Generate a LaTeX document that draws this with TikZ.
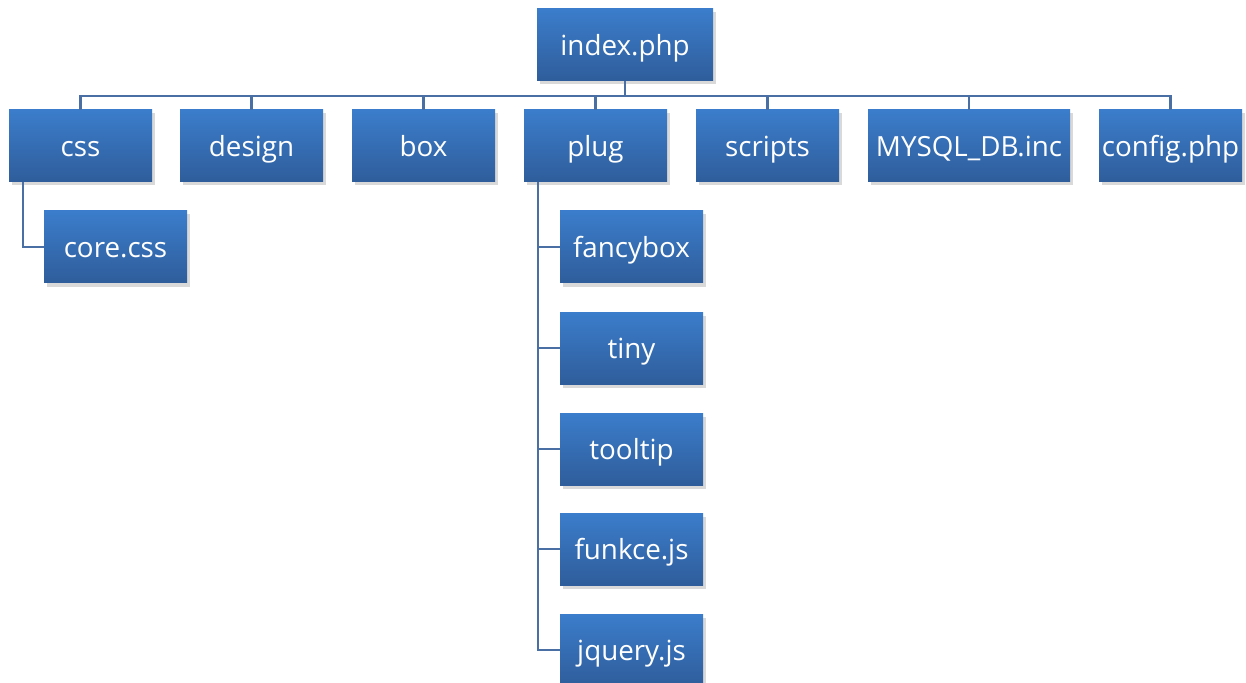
\documentclass[tikz,border=0pt]{standalone}
\usepackage{fontspec}
\setmainfont{Open Sans}
\usepackage{tikz}
\usetikzlibrary{shadows}
\definecolor{boxtop}{RGB}{59,125,203}
\definecolor{boxbot}{RGB}{47,93,155}
\definecolor{wire}{RGB}{74,111,165}

\begin{document}
\begin{tikzpicture}
        \useasboundingbox (0,0) rectangle (24.92,-13.66);
        \begin{scope}[
            every node/.style={shape=rectangle,minimum width=2.86cm,minimum height=1.44cm,
                inner sep=0pt,text height=12pt,text depth=0pt,
                top color=boxtop,bottom color=boxbot,text=white,
                font=\fontsize{15.8}{18}\selectfont,
                drop shadow={opacity=0.3,shadow xshift=0.06cm,shadow yshift=-0.07cm}}
        ]
            \node[minimum width=3.52cm] (index) at (12.5, -0.9) {index.php};

            \node (css) at (1.61, -2.92) {css};
            \node (design) at (5.03, -2.92) {design};
            \node (box) at (8.47, -2.92) {box};
            \node (plug) at (11.91, -2.92) {plug};
            \node (scripts) at (15.35, -2.92) {scripts};
            \node[minimum width=4.04cm] (mysql) at (19.38, -2.92) {MYSQL\_DB.inc};
            \node (config) at (23.41, -2.92) {config.php};

            \node (core) at (2.31, -4.94) {core.css};

            \node (fancybox) at (12.63, -4.94) {fancybox};
            \node (tiny) at (12.63, -6.96) {tiny};
            \node (tooltip) at (12.63, -8.98) {tooltip};
            \node (funkce) at (12.63, -10.98) {funkce.js};
            \node (jquery) at (12.63, -13.0) {jquery.js};
        \end{scope}
        \begin{scope}[
            every edge/.style={draw=wire,line width=1.3pt},
            bus/.style={to path={(\tikztostart) -- ++(0,-0.29) -| (\tikztotarget)}},
            side/.style={to path={([xshift=0.28cm]\tikztostart) |- (\tikztotarget)}}
        ]
            \path [-] (index.south) edge[bus] (css.north);
            \path [-] (index.south) edge[bus] (design.north);
            \path [-] (index.south) edge[bus] (box.north);
            \path [-] (index.south) edge[bus] (plug.north);
            \path [-] (index.south) edge[bus] (scripts.north);
            \path [-] (index.south) edge[bus] (mysql.north);
            \path [-] (index.south) edge[bus] (config.north);

            \path [-] (css.south west) edge[side] (core.west);

            \path [-] (plug.south west) edge[side] (fancybox.west);
            \path [-] (plug.south west) edge[side] (tiny.west);
            \path [-] (plug.south west) edge[side] (tooltip.west);
            \path [-] (plug.south west) edge[side] (funkce.west);
            \path [-] (plug.south west) edge[side] (jquery.west);
        \end{scope}
    \end{tikzpicture}
\end{document}
